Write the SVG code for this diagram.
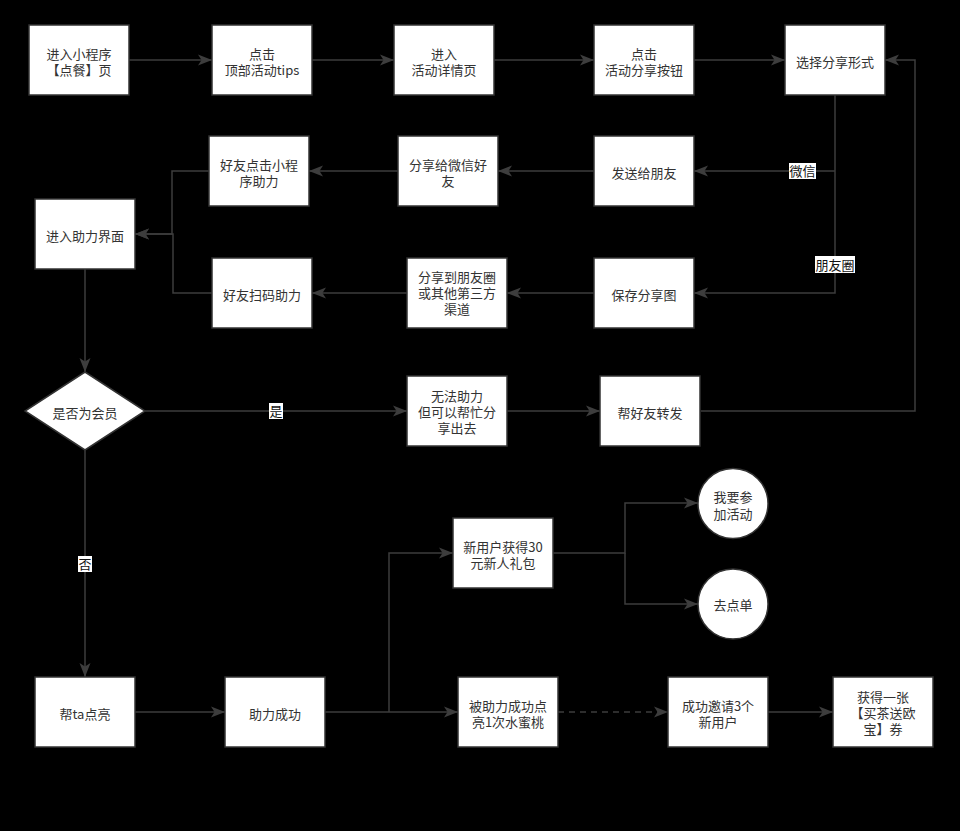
<svg xmlns="http://www.w3.org/2000/svg" width="960" height="831" viewBox="0 0 960 831">
<style>
.box{fill:#fff;stroke:#333;stroke-width:1.5}
.t{font-family:"Noto Sans CJK SC","Liberation Sans",sans-serif;font-size:13px;fill:#333;text-anchor:middle}
.lt{font-family:"Noto Sans CJK SC","Liberation Sans",sans-serif;font-size:13px;fill:#111;text-anchor:middle}
.c{fill:none;stroke:#3d3d3d;stroke-width:1.5}
.lb{fill:#fff}
</style>
<defs>
<marker id="ah" markerUnits="userSpaceOnUse" markerWidth="15" markerHeight="12" refX="14" refY="6" orient="auto">
<path d="M0,0.5 L14,6 L0,11.5 L3.5,6 z" fill="#3d3d3d"/>
</marker>
</defs>
<rect x="0" y="0" width="960" height="831" fill="#000"/>

<g id="connectors">
<path class="c" d="M129,60 H212" marker-end="url(#ah)"/>
<path class="c" d="M312,60 H394" marker-end="url(#ah)"/>
<path class="c" d="M494,60 H594" marker-end="url(#ah)"/>
<path class="c" d="M694,60 H785" marker-end="url(#ah)"/>
<path class="c" d="M835,95 V293 H694" marker-end="url(#ah)"/>
<path class="c" d="M835,171 H694" marker-end="url(#ah)"/>
<path class="c" d="M594,171 H498" marker-end="url(#ah)"/>
<path class="c" d="M398,171 H309" marker-end="url(#ah)"/>
<path class="c" d="M594,293 H507" marker-end="url(#ah)"/>
<path class="c" d="M407,293 H312" marker-end="url(#ah)"/>
<path class="c" d="M209,171 H172 V234 H135" marker-end="url(#ah)"/>
<path class="c" d="M212,293 H173 V234 H135" marker-end="url(#ah)"/>
<path class="c" d="M85,269 V372" marker-end="url(#ah)"/>
<path class="c" d="M145,411 H407" marker-end="url(#ah)"/>
<path class="c" d="M507,411 H600" marker-end="url(#ah)"/>
<path class="c" d="M701,411 H915 V60 H885" marker-end="url(#ah)"/>
<path class="c" d="M85,450 V677" marker-end="url(#ah)"/>
<path class="c" d="M135,712 H225" marker-end="url(#ah)"/>
<path class="c" d="M325,712 H458" marker-end="url(#ah)"/>
<path class="c" d="M389,712 V553 H453" marker-end="url(#ah)"/>
<path class="c" d="M553,553 H625 V503 H698" marker-end="url(#ah)"/>
<path class="c" d="M625,553 V604 H698" marker-end="url(#ah)"/>
<path class="c" d="M558,712 H668" stroke-dasharray="6,5" marker-end="url(#ah)"/>
<path class="c" d="M768,712 H833" marker-end="url(#ah)"/>
<rect class="lb" x="789" y="163" width="27" height="16"/>
<text class="lt" x="802.5" y="176">微信</text>
<rect class="lb" x="815" y="256" width="40" height="17"/>
<text class="lt" x="835" y="269.5">朋友圈</text>
<rect class="lb" x="269" y="403" width="14" height="16"/>
<text class="lt" x="276" y="416">是</text>
<rect class="lb" x="78" y="556" width="14" height="16"/>
<text class="lt" x="85" y="569">否</text>
</g>

<g id="n1"><rect class="box" x="29" y="25" width="100" height="70"/><text class="t" x="79" y="58.5">进入小程序<tspan x="79" dy="16.5">【点餐】页</tspan></text></g>
<g id="n2"><rect class="box" x="212" y="25" width="100" height="70"/><text class="t" x="262" y="58.5">点击<tspan x="262" dy="16.5">顶部活动tips</tspan></text></g>
<g id="n3"><rect class="box" x="394" y="25" width="100" height="70"/><text class="t" x="444" y="58.5">进入<tspan x="444" dy="16.5">活动详情页</tspan></text></g>
<g id="n4"><rect class="box" x="594" y="25" width="100" height="70"/><text class="t" x="644" y="58.5">点击<tspan x="644" dy="16.5">活动分享按钮</tspan></text></g>
<g id="n5"><rect class="box" x="785" y="25" width="100" height="70"/><text class="t" x="835" y="66.5">选择分享形式</text></g>

<g id="n6"><rect class="box" x="209" y="136" width="100" height="70"/><text class="t" x="259" y="169.5">好友点击小程<tspan x="259" dy="16.5">序助力</tspan></text></g>
<g id="n7"><rect class="box" x="398" y="136" width="100" height="70"/><text class="t" x="448" y="169.5">分享给微信好<tspan x="448" dy="16.5">友</tspan></text></g>
<g id="n8"><rect class="box" x="594" y="136" width="100" height="70"/><text class="t" x="644" y="177.5">发送给朋友</text></g>
<g id="n9"><rect class="box" x="35" y="199" width="100" height="70"/><text class="t" x="85" y="240.5">进入助力界面</text></g>
<g id="n10"><rect class="box" x="212" y="258" width="100" height="70"/><text class="t" x="262" y="299.5">好友扫码助力</text></g>
<g id="n11"><rect class="box" x="407" y="258" width="100" height="70"/><text class="t" x="457" y="281.5">分享到朋友圈<tspan x="457" dy="16">或其他第三方</tspan><tspan x="457" dy="16">渠道</tspan></text></g>
<g id="n12"><rect class="box" x="594" y="258" width="100" height="70"/><text class="t" x="644" y="299.5">保存分享图</text></g>

<g id="n13"><path class="box" d="M85,372 L145,411 L85,450 L25,411 Z"/><text class="t" x="85" y="417.5">是否为会员</text></g>
<g id="n14"><rect class="box" x="407" y="376" width="100" height="70"/><text class="t" x="457" y="401">无法助力<tspan x="457" dy="16">但可以帮忙分</tspan><tspan x="457" dy="16">享出去</tspan></text></g>
<g id="n15"><rect class="box" x="600" y="376" width="100" height="70"/><text class="t" x="650" y="417.5">帮好友转发</text></g>

<g id="n16"><ellipse class="box" cx="733" cy="503.5" rx="35" ry="35"/><text class="t" x="733" y="502">我要参<tspan x="733" dy="16.5">加活动</tspan></text></g>
<g id="n17"><rect class="box" x="453" y="518" width="100" height="70"/><text class="t" x="503" y="551.5">新用户获得30<tspan x="503" dy="16.5">元新人礼包</tspan></text></g>
<g id="n18"><ellipse class="box" cx="733" cy="604" rx="35" ry="35"/><text class="t" x="733" y="610">去点单</text></g>

<g id="n19"><rect class="box" x="35" y="677" width="100" height="70"/><text class="t" x="85" y="718.5">帮ta点亮</text></g>
<g id="n20"><rect class="box" x="225" y="677" width="100" height="70"/><text class="t" x="275" y="718.5">助力成功</text></g>
<g id="n21"><rect class="box" x="458" y="677" width="100" height="70"/><text class="t" x="508" y="710.5">被助力成功点<tspan x="508" dy="16.5">亮1次水蜜桃</tspan></text></g>
<g id="n22"><rect class="box" x="668" y="677" width="100" height="70"/><text class="t" x="718" y="710.5">成功邀请3个<tspan x="718" dy="16.5">新用户</tspan></text></g>
<g id="n23"><rect class="box" x="833" y="677" width="100" height="70"/><text class="t" x="883" y="702">获得一张<tspan x="883" dy="16">【买茶送欧</tspan><tspan x="883" dy="16">宝】券</tspan></text></g>
</svg>
